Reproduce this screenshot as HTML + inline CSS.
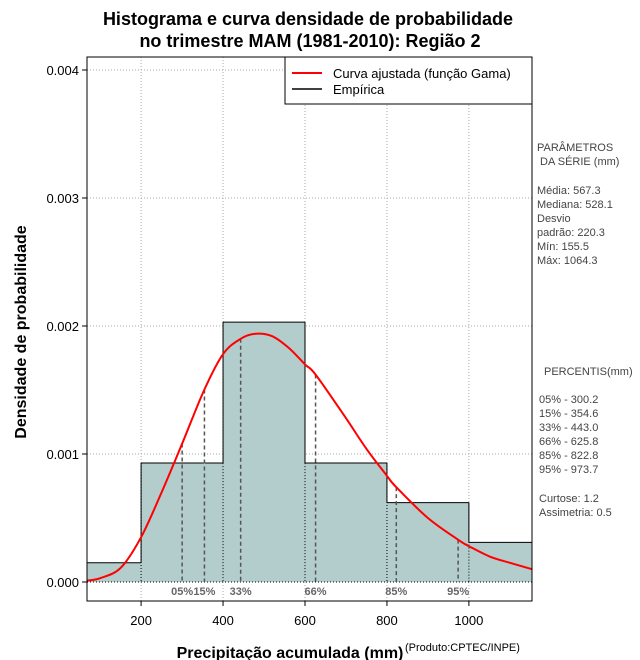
<!DOCTYPE html>
<html><head><meta charset="utf-8"><style>
body{margin:0;background:#fff;}
svg{display:block;font-family:"Liberation Sans",sans-serif;}
</style></head><body>
<svg id="c" width="640" height="660" xmlns="http://www.w3.org/2000/svg">
<text x="308" y="25" text-anchor="middle" font-size="18" font-weight="bold">Histograma e curva densidade de probabilidade</text>
<text x="310" y="47" text-anchor="middle" font-size="18" font-weight="bold">no trimestre MAM (1981-2010): Região 2</text>
<g id="grid"></g>
<g id="bars"></g>
<g id="pct"></g>
<g id="curve"></g>
<g id="axes"></g>
<rect x="87" y="57" width="445" height="544" fill="none" stroke="#000"/>
<g>
<rect x="285" y="57" width="247" height="47" fill="#fff" stroke="#000"/>
<line x1="292" y1="73" x2="322" y2="73" stroke="red" stroke-width="2"/>
<text x="333" y="78" font-size="13">Curva ajustada (função Gama)</text>
<line x1="292" y1="89" x2="322" y2="89" stroke="#000" stroke-width="1.5"/>
<text x="333" y="94" font-size="13">Empírica</text>
</g>
<text transform="translate(26,332) rotate(-90)" text-anchor="middle" font-size="16" font-weight="bold">Densidade de probabilidade</text>
<text x="290" y="658" text-anchor="middle" font-size="16" font-weight="bold">Precipitação acumulada (mm)</text>
<text x="405" y="651" font-size="11">(Produto:CPTEC/INPE)</text>
<g font-size="11" fill="#444">
<text x="537" y="151">PARÂMETROS</text>
<text x="540" y="165">DA SÉRIE (mm)</text>
<text x="537" y="194">Média:  567.3</text>
<text x="537" y="208">Mediana:  528.1</text>
<text x="537" y="222">Desvio</text>
<text x="537" y="236">padrão:  220.3</text>
<text x="537" y="250">Mín:  155.5</text>
<text x="537" y="264">Máx:  1064.3</text>
<text x="544" y="375">PERCENTIS(mm)</text>
<text x="539" y="403">05% -   300.2</text>
<text x="539" y="417">15% -   354.6</text>
<text x="539" y="431">33% -   443.0</text>
<text x="539" y="445">66% -   625.8</text>
<text x="539" y="459">85% -   822.8</text>
<text x="539" y="473">95% -   973.7</text>
<text x="539" y="502">Curtose:  1.2</text>
<text x="539" y="516">Assimetria:  0.5</text>
</g>
</svg>
<script>
const binEdges=[0,200,400,600,800,1000,1200];
const binDensity=[0.00015,0.00093,0.00203,0.00093,0.00062,0.00031];
const curveX=[68,100,150,200,250,300,354,400,443,480,520,560,600,626,700,750,800,823,900,974,1000,1050,1100,1154];
const curveY=[0.00001,0.00003,0.00011,0.00035,0.00070,0.00108,0.00150,0.00178,0.00190,0.00194,0.00192,0.00183,0.00170,0.00162,0.00128,0.00104,0.00083,0.00074,0.00050,0.00033,0.00028,0.00020,0.00015,0.00010];
const pctLabels=["05%","15%","33%","66%","85%","95%"];
const pctValues=[300.2,354.6,443.0,625.8,822.8,973.7];
const xTicks=[200,400,600,800,1000];
const yTicks=[0,0.001,0.002,0.003,0.004];
const yTickLabels=["0.000","0.001","0.002","0.003","0.004"];
const NS="http://www.w3.org/2000/svg";
const X0=87,X1=532,Y0=57,Y1=601,XMIN=68,XMAX=1154;
const sx=v=>X0+(v-XMIN)/(XMAX-XMIN)*(X1-X0);
const sy=v=>582-v*128000;
function mk(tag,attrs,parent){const e=document.createElementNS(NS,tag);for(const k in attrs)e.setAttribute(k,attrs[k]);document.getElementById(parent).appendChild(e);return e;}
xTicks.forEach(t=>{const l=mk('line',{x1:sx(t),x2:sx(t),y1:Y0,y2:Y1,stroke:'#aaa','stroke-dasharray':'1,2'},'grid');

});
yTicks.forEach(t=>{const l=mk('line',{x1:X0,x2:X1,y1:sy(t),y2:sy(t),stroke:'#aaa','stroke-dasharray':'1,2'},'grid');

});
binDensity.forEach((d,i)=>{const a=Math.max(sx(binEdges[i]),X0),b=Math.min(sx(binEdges[i+1]),X1);
const r=mk('rect',{x:a,y:sy(d),width:b-a,height:sy(0)-sy(d),fill:'#b3cccc'},'bars');


const t=mk('line',{x1:a,x2:b,y1:sy(d),y2:sy(d),stroke:'#000'},'bars');


if(i>0){const h=Math.max(d,binDensity[i-1]);const s=mk('line',{x1:a,x2:a,y1:sy(h),y2:sy(0),stroke:'#000','stroke-dasharray':'1,2'},'bars');


const c=mk('line',{x1:a,x2:a,y1:sy(Math.min(d,binDensity[i-1])),y2:sy(h),stroke:'#000'},'bars');

}});
const bl=mk('line',{x1:X0,x2:X1,y1:sy(0),y2:sy(0),stroke:'#000','stroke-dasharray':'1,2'},'bars');


function cy(v){for(let i=0;i<curveX.length-1;i++){if(v>=curveX[i]&&v<=curveX[i+1]){const f=(v-curveX[i])/(curveX[i+1]-curveX[i]);return curveY[i]+f*(curveY[i+1]-curveY[i]);}}return 0;}
pctValues.forEach((p,i)=>{const l=mk('line',{x1:sx(p),x2:sx(p),y1:sy(cy(p)),y2:sy(0),stroke:'#555','stroke-width':1.5,'stroke-dasharray':'4,3'},'pct');


const t=mk('text',{x:sx(p),y:595,'text-anchor':'middle','font-size':11,'font-weight':'bold',fill:'#666'},'pct');t.textContent=pctLabels[i];

});
// smooth curve (Catmull-Rom -> Bezier)
const P=curveX.map((v,i)=>[sx(v),sy(curveY[i])]);
let d='M'+P[0][0].toFixed(1)+','+P[0][1].toFixed(1);
for(let i=0;i<P.length-1;i++){const p0=P[Math.max(i-1,0)],p1=P[i],p2=P[i+1],p3=P[Math.min(i+2,P.length-1)];
const c1=[p1[0]+(p2[0]-p0[0])/6,p1[1]+(p2[1]-p0[1])/6],c2=[p2[0]-(p3[0]-p1[0])/6,p2[1]-(p3[1]-p1[1])/6];
d+='C'+c1[0].toFixed(1)+','+c1[1].toFixed(1)+' '+c2[0].toFixed(1)+','+c2[1].toFixed(1)+' '+p2[0].toFixed(1)+','+p2[1].toFixed(1);}
const cp=mk('path',{d:d,fill:'none',stroke:'red','stroke-width':2,'stroke-linejoin':'round'},'curve');


xTicks.forEach(t=>{const l=mk('line',{x1:sx(t),x2:sx(t),y1:Y1,y2:Y1+5,stroke:'#000'},'axes');


const tx=mk('text',{x:sx(t),y:625,'text-anchor':'middle','font-size':13},'axes');tx.textContent=t;

});
yTicks.forEach((t,i)=>{const l=mk('line',{x1:X0-5,x2:X0,y1:sy(t),y2:sy(t),stroke:'#000'},'axes');


const tx=mk('text',{x:X0-8,y:sy(t)+5,'text-anchor':'end','font-size':13},'axes');tx.textContent=yTickLabels[i];

});
</script>
</body></html>
